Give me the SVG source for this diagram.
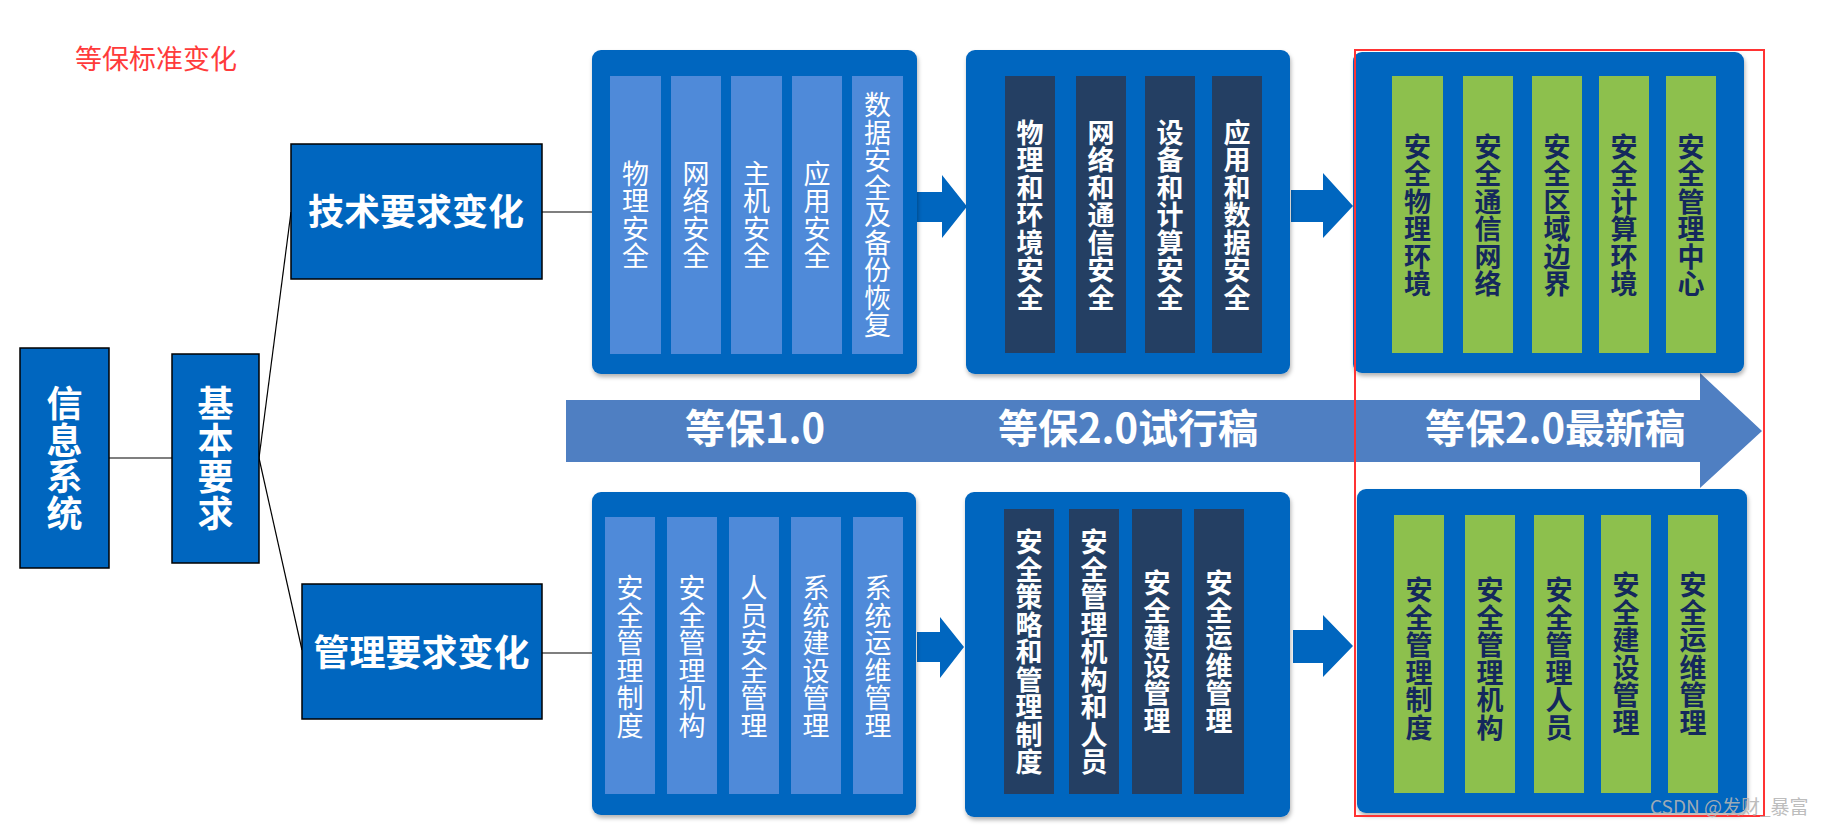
<svg xmlns="http://www.w3.org/2000/svg" width="1821" height="828" viewBox="0 0 1821 828">
<defs>
<filter id="sh" x="-5%" y="-5%" width="110%" height="112%">
<feDropShadow dx="1" dy="3" stdDeviation="2" flood-color="#000" flood-opacity="0.3"/>
</filter>
<style>
.box{fill:#0066BF;stroke:#000;stroke-width:1.5}
.panel{fill:#0066BF;filter:url(#sh)}
.col1{fill:#4F8AD9}
.col2{fill:#243F63}
.col3{fill:#8DC04D}
.f{font-family:"Noto Sans CJK SC","Noto Sans",sans-serif;text-anchor:middle}
.v{writing-mode:vertical-rl;text-orientation:upright;letter-spacing:0.5px}
.t1{font-size:27px;fill:#fff}
.t2{font-size:27px;fill:#fff;font-weight:bold}
.t3{font-size:27px;fill:#14285C;font-weight:bold}
.tb{font-size:36px;fill:#fff;font-weight:bold}
.tband{font-size:40px;fill:#fff;font-weight:bold}
.conn{stroke:#000;stroke-width:1.2;fill:none}
.blk{fill:#0066BF}
</style>
</defs>
<rect width="1821" height="828" fill="#fff"/>

<g id="title">
<text x="75" y="69" font-family="Noto Sans CJK SC, sans-serif" font-size="27" fill="#FF3B3B">等保标准变化</text>
</g>

<g id="band">
<polygon points="566,400 1700,400 1700,373 1762,431 1700,488 1700,462 566,462" fill="#4F7FC2"/>
<text class="f tband" x="755" y="443">等保1.0</text>
<text class="f tband" x="1128" y="443">等保2.0试行稿</text>
<text class="f tband" x="1555" y="443">等保2.0最新稿</text>
</g>

<g id="connectors">
<line class="conn" x1="109" y1="458" x2="172" y2="458"/>
<line class="conn" x1="259" y1="458" x2="291" y2="212"/>
<line class="conn" x1="259" y1="458" x2="302" y2="650"/>
<line class="conn" x1="542" y1="212" x2="592" y2="212"/>
<line class="conn" x1="542" y1="653" x2="592" y2="653"/>
<polygon class="blk" points="915,192 942,192 942,175 967,206.5 942,238 942,222 915,222"/>
<polygon class="blk" points="1291,190 1323,190 1323,173 1353,206 1323,238 1323,222 1291,222"/>
<polygon class="blk" points="917,632 940,632 940,617 964,647 940,678 940,662 917,662"/>
<polygon class="blk" points="1293,630 1323,630 1323,615 1353,646 1323,677 1323,663 1293,663"/>
</g>

<g id="info-system">
<rect class="box" x="20" y="348" width="89" height="220"/>
<text class="f tb v" x="64.5" y="458.5">信息系统</text>
</g>

<g id="basic-req">
<rect class="box" x="172" y="354" width="87" height="209"/>
<text class="f tb v" x="215.5" y="458.5">基本要求</text>
</g>

<g id="tech-change">
<rect class="box" x="291" y="144" width="251" height="135"/>
<text class="f tb" x="416" y="225">技术要求变化</text>
</g>

<g id="mgmt-change">
<rect class="box" x="302" y="584" width="240" height="135"/>
<text class="f tb" x="421.5" y="666">管理要求变化</text>
</g>

<g id="tech-v1">
<rect class="panel" x="592" y="50" width="325" height="324" rx="9"/>
<rect class="col1" x="610" y="76" width="51" height="278"/>
<rect class="col1" x="671" y="76" width="50" height="278"/>
<rect class="col1" x="731" y="76" width="51" height="278"/>
<rect class="col1" x="792" y="76" width="50" height="278"/>
<rect class="col1" x="852" y="76" width="51" height="278"/>
<text class="f t1 v" x="635.5" y="215">物理安全</text>
<text class="f t1 v" x="696" y="215">网络安全</text>
<text class="f t1 v" x="756.5" y="215">主机安全</text>
<text class="f t1 v" x="817" y="215">应用安全</text>
<text class="f t1 v" x="877.5" y="215">数据安全及备份恢复</text>
</g>

<g id="tech-v2-trial">
<rect class="panel" x="966" y="50" width="324" height="324" rx="9"/>
<rect class="col2" x="1005" y="76" width="50" height="277"/>
<rect class="col2" x="1076" y="76" width="50" height="277"/>
<rect class="col2" x="1145" y="76" width="50" height="277"/>
<rect class="col2" x="1212" y="76" width="50" height="277"/>
<text class="f t2 v" x="1030" y="215">物理和环境安全</text>
<text class="f t2 v" x="1101" y="215">网络和通信安全</text>
<text class="f t2 v" x="1170" y="215">设备和计算安全</text>
<text class="f t2 v" x="1237" y="215">应用和数据安全</text>
</g>

<g id="tech-v2-latest">
<rect class="panel" x="1353" y="52" width="391" height="321" rx="9"/>
<rect class="col3" x="1392" y="76" width="51" height="277"/>
<rect class="col3" x="1463" y="76" width="50" height="277"/>
<rect class="col3" x="1532" y="76" width="50" height="277"/>
<rect class="col3" x="1599" y="76" width="50" height="277"/>
<rect class="col3" x="1666" y="76" width="50" height="277"/>
<text class="f t3 v" x="1417.5" y="215.5">安全物理环境</text>
<text class="f t3 v" x="1488" y="215.5">安全通信网络</text>
<text class="f t3 v" x="1557" y="215.5">安全区域边界</text>
<text class="f t3 v" x="1624" y="215.5">安全计算环境</text>
<text class="f t3 v" x="1691" y="215.5">安全管理中心</text>
</g>

<g id="mgmt-v1">
<rect class="panel" x="592" y="492" width="324" height="323" rx="9"/>
<rect class="col1" x="605" y="517" width="50" height="277"/>
<rect class="col1" x="667" y="517" width="50" height="277"/>
<rect class="col1" x="729" y="517" width="50" height="277"/>
<rect class="col1" x="791" y="517" width="50" height="277"/>
<rect class="col1" x="853" y="517" width="50" height="277"/>
<text class="f t1 v" x="630" y="657">安全管理制度</text>
<text class="f t1 v" x="692" y="657">安全管理机构</text>
<text class="f t1 v" x="754" y="657">人员安全管理</text>
<text class="f t1 v" x="816" y="657">系统建设管理</text>
<text class="f t1 v" x="878" y="657">系统运维管理</text>
</g>

<g id="mgmt-v2-trial">
<rect class="panel" x="965" y="492" width="325" height="325" rx="9"/>
<rect class="col2" x="1004" y="509" width="50" height="285"/>
<rect class="col2" x="1069" y="509" width="50" height="285"/>
<rect class="col2" x="1132" y="509" width="50" height="285"/>
<rect class="col2" x="1194" y="509" width="50" height="285"/>
<text class="f t2 v" x="1029" y="652">安全策略和管理制度</text>
<text class="f t2 v" x="1094" y="652">安全管理机构和人员</text>
<text class="f t2 v" x="1157" y="652">安全建设管理</text>
<text class="f t2 v" x="1219" y="652">安全运维管理</text>
</g>

<g id="mgmt-v2-latest">
<rect class="panel" x="1357" y="489" width="390" height="324" rx="9"/>
<rect class="col3" x="1394" y="515" width="50" height="278"/>
<rect class="col3" x="1465" y="515" width="50" height="278"/>
<rect class="col3" x="1534" y="515" width="50" height="278"/>
<rect class="col3" x="1601" y="515" width="50" height="278"/>
<rect class="col3" x="1668" y="515" width="50" height="278"/>
<text class="f t3 v" x="1419" y="659">安全管理制度</text>
<text class="f t3 v" x="1490" y="659">安全管理机构</text>
<text class="f t3 v" x="1559" y="659">安全管理人员</text>
<text class="f t3 v" x="1626" y="654">安全建设管理</text>
<text class="f t3 v" x="1693" y="654">安全运维管理</text>
</g>

<g id="highlight">
<rect x="1355" y="50" width="409" height="766" fill="none" stroke="#FF3333" stroke-width="2"/>
</g>

<g id="watermark">
<text x="1650" y="814" font-family="Noto Sans CJK SC, sans-serif" font-size="19" fill="#B4B4B4" fill-opacity="0.9">CSDN @发财_暴富</text>
</g>
</svg>
